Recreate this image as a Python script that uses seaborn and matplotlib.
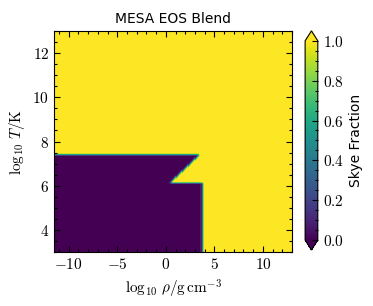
import numpy as np
import matplotlib
matplotlib.use("Agg")
import matplotlib.pyplot as plt
from matplotlib.path import Path
from matplotlib.ticker import MultipleLocator, FuncFormatter
import seaborn as sns

off_logRho = [-12.0, -12.0, 3.5, 0.43, 3.77, 3.77]
off_logT = [2.9, 7.43, 7.43, 6.14, 6.14, 2.9]

# grid limits of the map
rho_lims = [-11.5, 13.0]
logT_lims = [3.0, 13.0]

sns.set_style("ticks")
plt.rcParams["font.family"] = ["DejaVu Sans"]
plt.rcParams["mathtext.fontset"] = "cm"
plt.rcParams["font.size"] = 10
plt.rcParams["axes.axisbelow"] = False

# cell edges, supersampled then smoothed a little to get the thin blend edge
nx, ny = 200, 220
sub = 3
xe = np.linspace(rho_lims[0], rho_lims[1], nx + 1)
ye = np.linspace(logT_lims[0], logT_lims[1], ny + 1)
xs = np.linspace(rho_lims[0], rho_lims[1], nx * sub)
ys = np.linspace(logT_lims[0], logT_lims[1], ny * sub)
XS, YS = np.meshgrid(xs, ys)
poly = Path(np.column_stack([off_logRho, off_logT]))
inside = poly.contains_points(np.column_stack([XS.ravel(), YS.ravel()])).reshape(XS.shape)
frac = 1.0 - inside.astype(float)
frac = frac.reshape(ny, sub, nx, sub).mean(axis=(1, 3))
k = np.array([0.25, 0.5, 0.25])
frac = np.apply_along_axis(lambda r: np.convolve(np.pad(r, 1, mode="edge"), k, "valid"), 0, frac)
frac = np.apply_along_axis(lambda r: np.convolve(np.pad(r, 1, mode="edge"), k, "valid"), 1, frac)

fig = plt.figure(figsize=(3.73, 3.06), dpi=100)
ax = fig.add_axes([0.145, 0.176, 0.638, 0.723])
cax = fig.add_axes([0.818, 0.183, 0.034, 0.716])

cmap = sns.color_palette("viridis", as_cmap=True)
mesh = ax.pcolormesh(xe, ye, frac, cmap=cmap, vmin=0, vmax=1, shading="flat", rasterized=True)
ax.set_axisbelow(False)
ax.set_xlim(rho_lims)
ax.set_ylim(logT_lims)

mathfmt = FuncFormatter(lambda v, p: r"$%g$" % v)
ax.xaxis.set_major_locator(MultipleLocator(5))
ax.xaxis.set_minor_locator(MultipleLocator(1))
ax.yaxis.set_major_locator(MultipleLocator(2))
ax.yaxis.set_minor_locator(MultipleLocator(0.5))
ax.xaxis.set_major_formatter(mathfmt)
ax.yaxis.set_major_formatter(mathfmt)
ax.tick_params(which="both", direction="in", top=True, right=True, labelsize=11,
               color="k", labelcolor="k", width=0.8)
ax.tick_params(which="major", length=4)
ax.tick_params(which="minor", length=2)
for s in ax.spines.values():
    s.set_linewidth(0.8)
    s.set_color("k")

ax.set_xlabel(r"$\log_{10}\,\rho/\mathrm{g\,cm^{-3}}$", fontsize=11, color="k")
ax.set_ylabel(r"$\log_{10}\,T/\mathrm{K}$", fontsize=11, color="k")
ax.set_title("MESA EOS Blend", fontsize=10, color="k")

cb = fig.colorbar(mesh, cax=cax, extend="both")
cb.ax.set_axisbelow(False)
cb.set_ticks([0, 0.2, 0.4, 0.6, 0.8, 1.0])
cb.ax.yaxis.set_minor_locator(MultipleLocator(0.05))
cb.ax.yaxis.set_major_formatter(FuncFormatter(lambda v, p: r"$%.1f$" % v))
cb.ax.tick_params(which="both", direction="in", labelsize=11, color="k", labelcolor="k", width=0.8)
cb.ax.tick_params(which="major", length=4)
cb.ax.tick_params(which="minor", length=2)
cb.set_label("Skye Fraction", fontsize=10, color="k")
cb.outline.set_linewidth(0.8)
cb.outline.set_edgecolor("k")

fig.savefig("out.png", dpi=100)
